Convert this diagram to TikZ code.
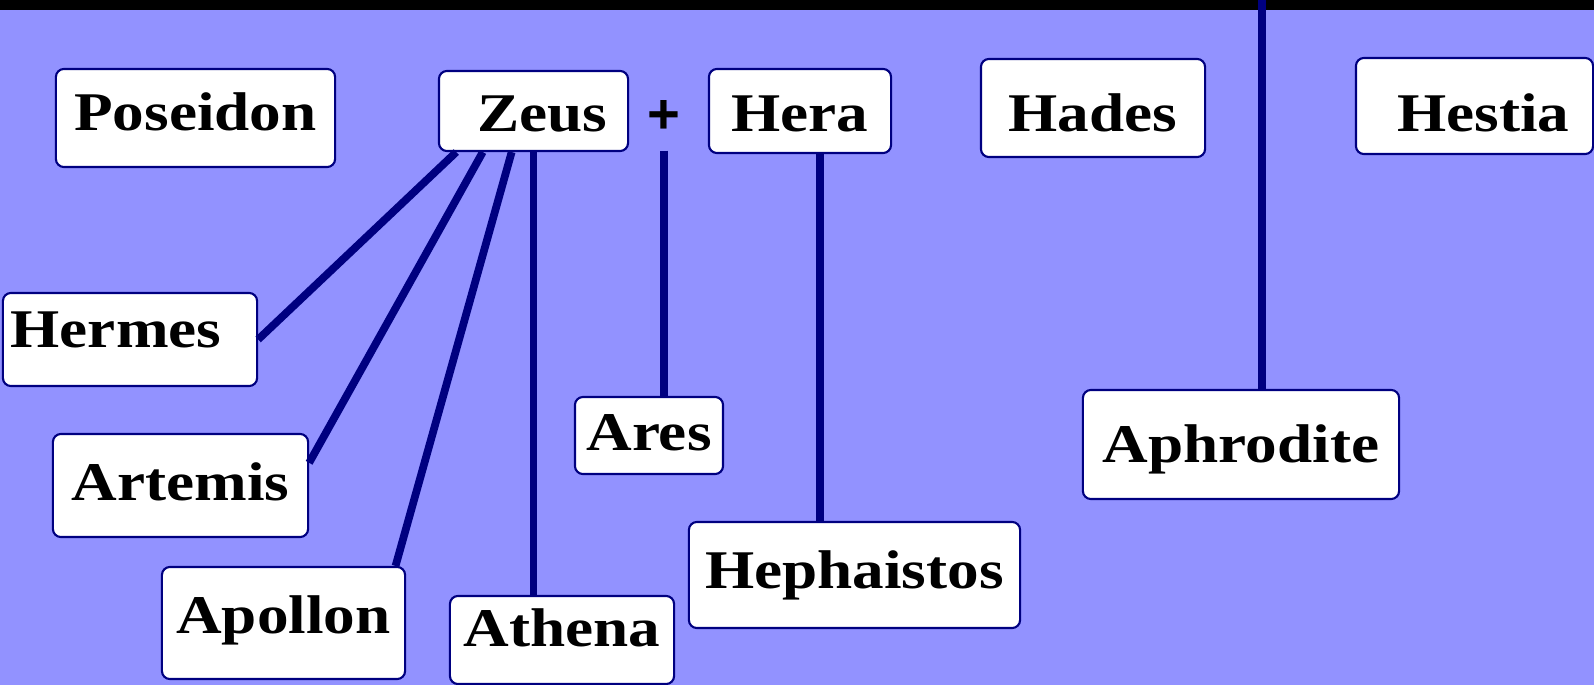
\documentclass[tikz,border=0pt]{standalone}
\usepackage{fontspec}
\newfontfamily\godfont[FakeStretch=1.16]{Liberation Serif}
\newfontfamily\plusfont{Liberation Sans}
\definecolor{bluebg}{RGB}{146,146,255}
\definecolor{navyline}{RGB}{0,0,128}

\begin{document}
\begin{tikzpicture}[x=0.01cm,y=-0.01cm]
\tikzset{god/.style = {shape=rectangle,draw=navyline,line width=0.6pt,fill=white,rounded corners=0.08cm,inner sep=0pt,
  font=\godfont\bfseries\fontsize{15.5}{18}\selectfont,text height=0.37cm,text depth=0.06cm}}
\tikzset{lift/.style = {text height=0.37cm,text depth=#1}}
\tikzset{drop/.style = {text height=#1,text depth=0cm}}
\tikzset{line/.style = {draw=navyline,line width=2.2pt}}
% background
\fill[bluebg] (0,0) rectangle (1594,685);
\fill[black] (0,0) rectangle (1594,10);
\useasboundingbox (0,0) rectangle (1594,685);
% vertices
\node[god,lift=0.13cm,minimum width=2.79cm,minimum height=0.98cm] (poseidon)   at (195.5,118) {Poseidon};
\node[god,drop=0.40cm,minimum width=1.89cm,minimum height=0.80cm] (zeus)       at (533.5,111) {\hspace{0.18cm}Zeus};
\node[god,drop=0.40cm,minimum width=1.82cm,minimum height=0.84cm] (hera)       at (800,111)   {Hera};
\node[god,drop=0.46cm,minimum width=2.24cm,minimum height=0.98cm] (hades)      at (1093,108)  {Hades};
\node[god,drop=0.50cm,minimum width=2.37cm,minimum height=0.96cm] (hestia)     at (1474.5,106) {\hspace{0.18cm}Hestia};
\node[god,lift=0.21cm,minimum width=2.54cm,minimum height=0.93cm] (hermes)     at (130,339.5) {Hermes\kern0.28cm};
\node[god,lift=0.07cm,minimum width=2.55cm,minimum height=1.03cm] (artemis)    at (180.5,485.5) {Artemis};
\node[god,lift=0.17cm,minimum width=2.43cm,minimum height=1.12cm] (apollon)    at (283.5,623) {Apollon};
\node[god,lift=0.25cm,minimum width=2.24cm,minimum height=0.88cm] (athena)     at (562,640)   {Athena};
\node[god,lift=0.07cm,minimum width=1.48cm,minimum height=0.77cm] (ares)       at (649,435.5) {Ares};
\node[god,lift=0.11cm,minimum width=3.31cm,minimum height=1.06cm] (hephaistos) at (854.5,575) {Hephaistos};
\node[god,lift=0.01cm,minimum width=3.16cm,minimum height=1.09cm] (aphrodite)  at (1241,444.5) {Aphrodite};
\node[font=\plusfont\bfseries\fontsize{16}{18}\selectfont,minimum height=0.66cm,inner sep=0pt] (plus) at (664,117) {+};
\coordinate (sky) at (1262,0);
%edges
\draw[line] (zeus.208) -- (hermes.east);
\draw[line] (zeus.219) -- (artemis.10);
\draw[line] (zeus.242) -- (apollon.27);
\draw[line] (zeus.south) -- (zeus.south |- athena.north);
\draw[line] (plus.south) -- (plus.south |- ares.north);
\draw[line] (hera.295) -- (hera.295 |- hephaistos.north);
\draw[line] (sky) -- (sky |- aphrodite.north);
\end{tikzpicture}
\end{document}
